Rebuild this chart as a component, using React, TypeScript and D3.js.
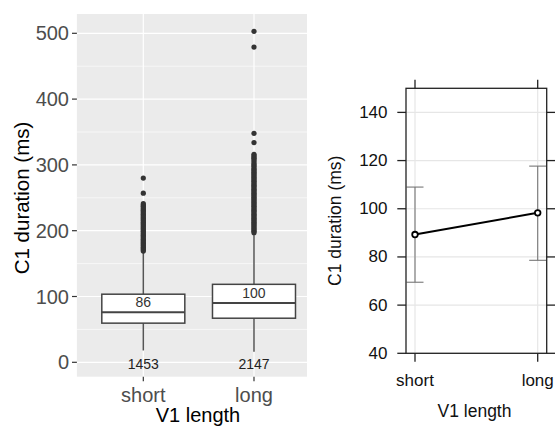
import React from 'react'
import * as d3 from 'd3'

const categories = ['short', 'long']

// boxplot stats per category: lower whisker, q1, median, q3, upper whisker
const boxStats = [
  { key: 'short', lower: 18, q1: 59.5, median: 76, q3: 103.5, upper: 168 },
  { key: 'long', lower: 16, q1: 67, median: 90, q3: 118.5, upper: 195 },
]

const shortOutliers = [
  280, 257, 241, 239, 237, 235, 233, 231, 229, 227, 225, 223, 221, 219, 217,
  215, 213, 211, 209, 207, 205, 203, 201, 199, 197, 195, 193, 191, 189, 187,
  185, 183, 181, 179, 177, 175, 173, 171, 169,
]

const longOutliers = [
  503, 479, 348, 334, 316, 314, 312, 310, 308, 305, 302, 300, 298, 295, 293,
  291, 289, 287, 285, 283, 281, 279, 277, 275, 273, 271, 269, 267, 265, 263,
  261, 259, 257, 255, 253, 251, 249, 247, 245, 243, 241, 239, 237, 235, 233,
  231, 229, 227, 225, 223, 221, 219, 217, 215, 213, 211, 209, 207, 205, 203,
  201, 199, 197,
]

const meanLabels = ['86', '100']
const meanLabelPos = [91, 105]
const countLabels = ['1453', '2147']

const leftTicks = [0, 100, 200, 300, 400, 500]
const leftMinor = [50, 150, 250, 350, 450]

// effect plot
const effectFit = [89.3, 98.3]
const effectLower = [69.5, 78.6]
const effectUpper = [109, 117.7]
const rightTicks = [40, 60, 80, 100, 120, 140]

const font = 'Liberation Sans, Arial, sans-serif'

const BoxPanel = () => {
  const x = d3.scaleLinear().domain([0.4, 2.6]).range([76.9, 320.4])
  const y = d3.scaleLinear().domain([0, 500]).range([362.3, 33.3])
  const top = 14
  const bottom = 376.7
  const halfW = (x(1.375) - x(1))
  const outliers = [shortOutliers, longOutliers]

  return (
    <g>
      <rect x={76.9} y={top} width={320.4 - 76.9} height={bottom - top} fill="#EBEBEB" />
      {leftMinor.map(v => (
        <line key={'mi' + v} x1={76.9} x2={320.4} y1={y(v)} y2={y(v)} stroke="#fff" strokeWidth={0.6} />
      ))}
      {leftTicks.map(v => (
        <line key={'ma' + v} x1={76.9} x2={320.4} y1={y(v)} y2={y(v)} stroke="#fff" strokeWidth={1.2} />
      ))}
      {categories.map((c, i) => (
        <line key={'vx' + c} x1={x(i + 1)} x2={x(i + 1)} y1={top} y2={bottom} stroke="#fff" strokeWidth={1.2} />
      ))}
      {boxStats.map((b, i) => {
        const cx = x(i + 1)
        return (
          <g key={b.key}>
            <line x1={cx} x2={cx} y1={y(b.lower)} y2={y(b.q1)} stroke="#555" strokeWidth={1.5} />
            <line x1={cx} x2={cx} y1={y(b.q3)} y2={y(b.upper)} stroke="#555" strokeWidth={1.5} />
            <rect x={cx - halfW} y={y(b.q3)} width={halfW * 2} height={y(b.q1) - y(b.q3)}
              fill="#fff" stroke="#444" strokeWidth={1.5} />
            <line x1={cx - halfW} x2={cx + halfW} y1={y(b.median)} y2={y(b.median)} stroke="#444" strokeWidth={2} />
            {outliers[i].map((v, j) => (
              <circle key={j} cx={cx} cy={y(v)} r={2.6} fill="#333" />
            ))}
            <text x={cx} y={y(meanLabelPos[i])} textAnchor="middle" dominantBaseline="central"
              fontSize={14} fontFamily={font} fill="#333">{meanLabels[i]}</text>
            <text x={cx} y={y(0) + 1.5} textAnchor="middle" dominantBaseline="central"
              fontSize={14} fontFamily={font} fill="#222">{countLabels[i]}</text>
          </g>
        )
      })}
      {leftTicks.map(v => (
        <g key={'t' + v}>
          <line x1={72} x2={76.9} y1={y(v)} y2={y(v)} stroke="#333" strokeWidth={1.2} />
          <text x={69} y={y(v)} textAnchor="end" dominantBaseline="central"
            fontSize={20} fontFamily={font} fill="#4D4D4D">{v}</text>
        </g>
      ))}
      {categories.map((c, i) => (
        <g key={'xt' + c}>
          <line x1={x(i + 1)} x2={x(i + 1)} y1={bottom} y2={bottom + 4.5} stroke="#333" strokeWidth={1.2} />
          <text x={x(i + 1)} y={402} textAnchor="middle" fontSize={20} fontFamily={font} fill="#4D4D4D">{c}</text>
        </g>
      ))}
      <text x={198} y={421.5} textAnchor="middle" fontSize={20} fontFamily={font} fill="#000">V1 length</text>
      <text transform={`translate(29,198) rotate(-90)`} textAnchor="middle" fontSize={20.5} fontFamily={font} fill="#000">C1 duration (ms)</text>
    </g>
  )
}

const EffectPanel = () => {
  const left = 406
  const right = 546.7
  const top = 88.3
  const bottom = 353.3
  const x = d3.scalePoint().domain(categories).range([415, 537.7])
  const y = d3.scaleLinear().domain([40, 150]).range([bottom, top])
  const line = d3.line<number>().x((_, i) => x(categories[i]) as number).y(d => y(d))

  return (
    <g>
      <rect x={307} y={0} width={248} height={427} fill="#fff" />
      {rightTicks.map(v => (
        <line key={'g' + v} x1={left} x2={right} y1={y(v)} y2={y(v)} stroke="#E6E6E6" strokeWidth={1.2} />
      ))}
      {categories.map(c => (
        <line key={'gv' + c} x1={x(c)} x2={x(c)} y1={top} y2={bottom} stroke="#E6E6E6" strokeWidth={1.2} />
      ))}
      {categories.map((c, i) => {
        const cx = x(c) as number
        return (
          <g key={'e' + c} stroke="#777" strokeWidth={1.1}>
            <line x1={cx} x2={cx} y1={y(effectLower[i])} y2={y(effectUpper[i])} />
            <line x1={cx - 8.5} x2={cx + 8.5} y1={y(effectLower[i])} y2={y(effectLower[i])} />
            <line x1={cx - 8.5} x2={cx + 8.5} y1={y(effectUpper[i])} y2={y(effectUpper[i])} />
          </g>
        )
      })}
      <path d={line(effectFit) ?? ''} fill="none" stroke="#000" strokeWidth={2} />
      {categories.map((c, i) => (
        <circle key={'p' + c} cx={x(c)} cy={y(effectFit[i])} r={2.8} fill="#fff" stroke="#000" strokeWidth={1.8} />
      ))}
      <rect x={left} y={top} width={right - left} height={bottom - top} fill="none" stroke="#222" strokeWidth={1.3} />
      {rightTicks.map(v => (
        <g key={'rt' + v}>
          <line x1={397.3} x2={left} y1={y(v)} y2={y(v)} stroke="#222" strokeWidth={1.3} />
          <line x1={right} x2={556} y1={y(v)} y2={y(v)} stroke="#222" strokeWidth={1.3} />
          <text x={387.5} y={y(v)} textAnchor="end" dominantBaseline="central"
            fontSize={17} fontFamily={font} fill="#111">{v}</text>
        </g>
      ))}
      {categories.map(c => (
        <g key={'rx' + c}>
          <line x1={x(c)} x2={x(c)} y1={top - 8.5} y2={top} stroke="#222" strokeWidth={1.3} />
          <line x1={x(c)} x2={x(c)} y1={bottom} y2={bottom + 8.5} stroke="#222" strokeWidth={1.3} />
          <text x={x(c)} y={386} textAnchor="middle" fontSize={17} fontFamily={font} fill="#111">{c}</text>
        </g>
      ))}
      <text x={474.5} y={417} textAnchor="middle" fontSize={17.5} fontFamily={font} fill="#111">V1 length</text>
      <text transform={`translate(341,220.8) rotate(-90)`} textAnchor="middle" fontSize={17.5} fontFamily={font} fill="#111">C1 duration (ms)</text>
    </g>
  )
}

export default function App() {
  return (
    <svg width={555} height={427} style={{ position: 'absolute', left: 0, top: 0, background: '#fff' }}>
      <BoxPanel />
      <EffectPanel />
    </svg>
  )
}
